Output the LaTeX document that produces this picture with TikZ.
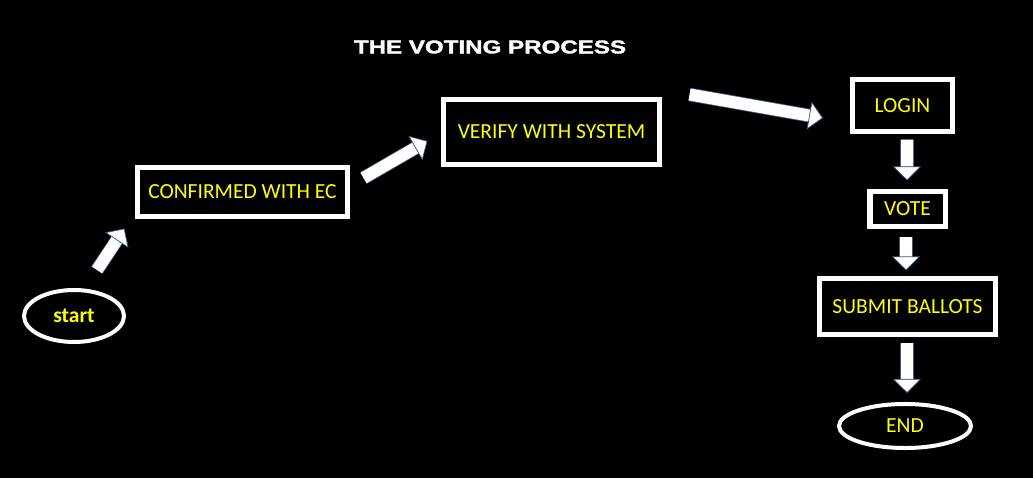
\documentclass[tikz,border=0pt]{standalone}
\usepackage{fontspec}
\setmainfont{Carlito}
\newfontfamily\headfont{Liberation Sans}[BoldFeatures={FakeBold=1.6}]
\usetikzlibrary{arrows.meta,positioning,calc,shapes.geometric}

\definecolor{boxtext}{RGB}{255,255,0}
\definecolor{arrowedge}{RGB}{60,90,125}

\tikzset{
  stepbox/.style={draw=white, line width=0.125cm, fill=black, text=boxtext,
    inner sep=0pt, font=\fontsize{15.3}{18}\selectfont},
  terminal/.style={ellipse, draw=white, line width=0.1cm, fill=black, text=boxtext,
    inner sep=0pt, font=\fontsize{15.3}{18}\selectfont},
  flowarrow/.style={draw=white, line width=0.3cm,
    -{Triangle[length=0.35cm, width=0.7cm, line width=0.5pt, color=arrowedge, fill=white]},
    preaction={draw=arrowedge, line width=0.34cm, -, shorten >=0.32cm}}
}

\begin{document}
\begin{tikzpicture}[x=0.025cm, y=-0.025cm]
  % Background
  \fill[black] (0,0) rectangle (1033,478);
  \useasboundingbox (0,0) rectangle (1033,478);

  % Title
  \node[text=white, font=\headfont\bfseries\fontsize{13.2}{15}\selectfont] (title) at (490,47)
    {\scalebox{1.3}[1]{THE VOTING PROCESS}};

  % Steps
  \node[terminal, minimum width=2.5cm, minimum height=1.3cm, font=\bfseries\fontsize{15.3}{18}\selectfont] (start) at (74,316) {start};
  \node[stepbox, minimum width=5.25cm, minimum height=1.225cm] (confirm) at (242.5,192) {CONFIRMED WITH EC};
  \node[stepbox, minimum width=5.4cm, minimum height=1.625cm] (verify) at (551.5,132) {VERIFY WITH SYSTEM};
  \node[stepbox, minimum width=2.475cm, minimum height=1.3cm] (login) at (902.5,105.5) {LOGIN};
  \node[stepbox, minimum width=1.875cm, minimum height=0.875cm] (vote) at (907.5,209) {VOTE};
  \node[stepbox, minimum width=4.4cm, minimum height=1.4cm] (submit) at (907.5,306.5) {SUBMIT BALLOTS};
  \node[terminal, minimum width=3.3cm, minimum height=1.1cm] (end) at (905,426) {END};

  % Block arrows
  \draw[flowarrow] ([shift={(23,-18)}]start.north) -- ([shift={(-10.5,9.5)}]confirm.south west);
  \draw[flowarrow] ([shift={(13.5,-14)}]confirm.east) -- ([shift={(-13.5,9)}]verify.west);
  \draw[flowarrow] ([shift={(27.5,-2.5)}]verify.north east) -- ([shift={(-27.5,12.5)}]login.west);
  \draw[flowarrow] ([shift={(4.5,5.5)}]login.south) -- ([shift={(-0.5,-8.5)}]vote.north);
  \draw[flowarrow] ([shift={(-1.5,7.5)}]vote.south) -- ([shift={(-1.5,-5.5)}]submit.north);
  \draw[flowarrow] ([shift={(-0.5,5.5)}]submit.south) -- ([shift={(2,-9)}]end.north);
\end{tikzpicture}
\end{document}
